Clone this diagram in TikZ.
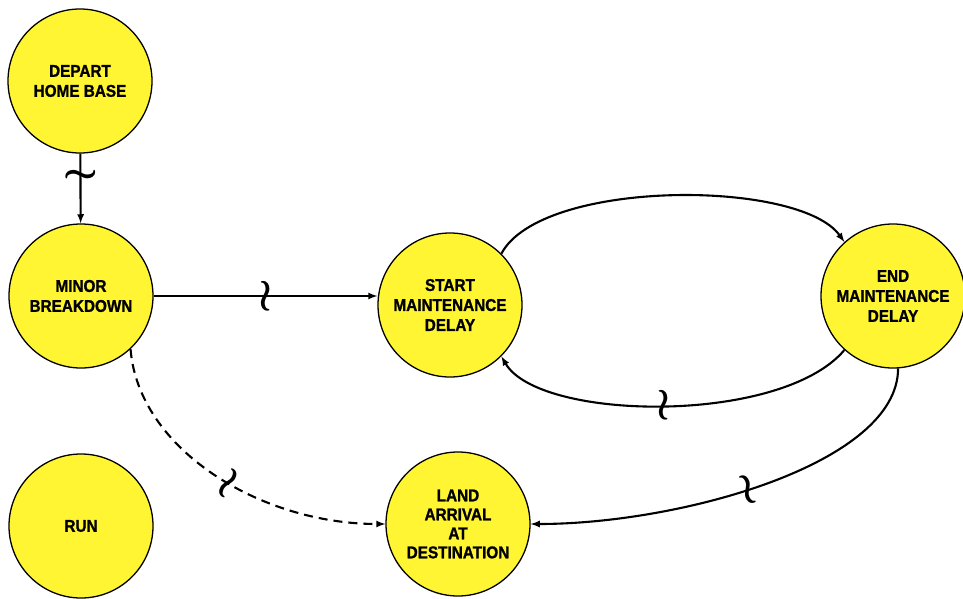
\documentclass[tikz,border=0pt]{standalone}
\usepackage{fontspec}
\setmainfont{Liberation Sans}[FakeStretch=0.9,BoldFeatures={FakeBold=1.2}]
\newcommand\delaymark{\scalebox{1.8}{$\wr$}}
\begin{document}
\begin{tikzpicture}[x=1pt,y=-1pt,
        event/.style={circle,draw=black,line width=1.3pt,fill=yellow!80!white,minimum size=144pt,inner sep=0pt,align=center,font=\fontsize{17}{20}\selectfont\bfseries},
        wig/.style={sloped,inner sep=0pt,font=\boldmath\Huge},
        link/.style={line width=2.1pt,-latex}]
        \useasboundingbox (0,0) rectangle (963,599);
        \node[event] (depart) at (80,81) {DEPART\\HOME BASE};
        \node[event] (minor) at (81,296) {MINOR\\BREAKDOWN};
        \node[event] (run) at (81,526) {RUN};
        \node[event] (start) at (450,305) {START\\MAINTENANCE\\DELAY};
        \node[event] (endm) at (893,296) {END\\MAINTENANCE\\DELAY};
        \node[event,font=\fontsize{17}{19}\selectfont\bfseries] (land) at (458,524) {LAND\\ARRIVAL\\AT\\DESTINATION};
        \draw[link] (depart) -- node[wig,pos=0.3] {\delaymark} (minor);
        \draw[link] (minor.east) -- node[wig] {\delaymark} (minor.east -| start.west);
        \draw[link] (start.45) .. controls +(40,-75) and +(-45,-63) .. (endm.132);
        \draw[link] (endm.228) .. controls +(-63,75) and +(38,65) .. node[wig] {\delaymark} (start.-45);
        \draw[link] (endm.-86) .. controls +(0,95) and +(150,0) .. node[wig,pos=0.55] {\delaymark} (land.east);
        \draw[link,dash pattern=on 9pt off 6pt] (minor.-47) .. controls +(8,100) and +(-125,0) .. node[wig,pos=0.55] {\delaymark} (land.west);
        \end{tikzpicture}
\end{document}
